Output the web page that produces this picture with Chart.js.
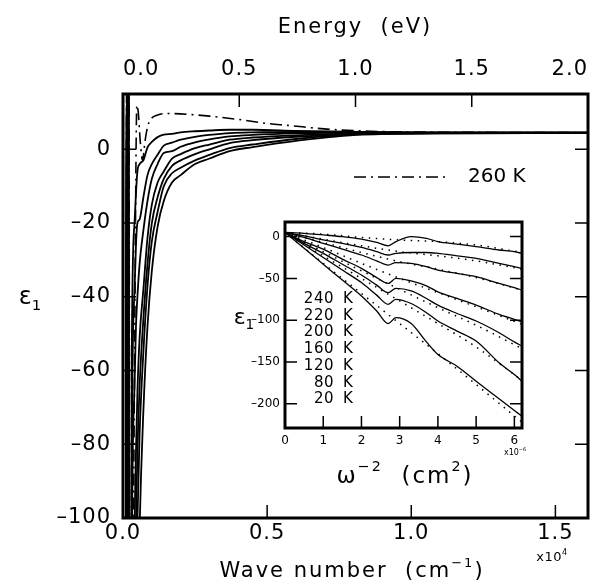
<!DOCTYPE html>
<html>
<head>
<meta charset="utf-8">
<script src="https://cdn.jsdelivr.net/npm/chart.js@4.4.0/dist/chart.umd.min.js"></script>
<style>
  body { margin: 0; background: #fff; }
  #wrap { position: relative; width: 595px; height: 586px; }
  #main { position: absolute; left: 0; top: 0; }
  #inset { position: absolute; left: 230px; top: 212px; }
</style>
</head>
<body>
<div id="wrap">
  <canvas id="main" width="595" height="586"></canvas>
  <canvas id="inset" width="300" height="290"></canvas>
</div>
<script>
// Main panel: eps1 vs wave number (cm^-1)
const waveNum = [90, 130, 170, 190, 220, 300, 400, 450, 500, 577, 707, 850, 1000, 1200, 1414, 1700, 2000, 2500, 3000, 3700, 4500, 6000, 8300, 11000, 16131];
const eps240K = [-300, 40, -300, 30, -400, -60, -20, -12, -6, -4, -3, 0.5, 2, 3.3, 4, 4.2, 4.6, 4.9, 5.1, 5.3, 5.3, 5.0, 4.7, 4.6, 4.5];
const eps220K = [-300, 40, -300, 30, -400, -90, -38, -26, -20, -19, -13, -7, -4, -1.5, 1, 1.8, 2.6, 3.4, 3.9, 4.4, 4.6, 4.7, 4.6, 4.55, 4.5];
const eps200K = [-300, 40, -300, 30, -400, -120, -64, -48, -40, -31, -22, -14, -8, -4, -1, -0.5, 0.7, 1.9, 2.7, 3.5, 3.9, 4.3, 4.5, 4.5, 4.5];
const eps160K = [-300, 40, -300, 30, -400, -180, -102, -82, -66, -51, -38, -24, -15, -9, -6, -2.5, -1.3, 0.3, 1.3, 2.6, 3.2, 3.8, 4.3, 4.45, 4.5];
const eps120K = [-300, 40, -300, 30, -400, -220, -131, -101, -82, -64, -46, -31, -20, -13, -8, -4.5, -3, -1.3, 0, 1.7, 2.5, 3.4, 4.2, 4.4, 4.45];
const eps80K  = [-300, 40, -300, 30, -400, -280, -173, -125, -101, -77, -55, -37, -25, -17, -10, -6.5, -5, -3, -1.5, 0.35, 1.3, 2.8, 4.1, 4.35, 4.4];
const eps20K  = [-300, 40, -300, 30, -400, -330, -215, -172, -141, -103, -71, -48, -33, -21, -14, -9, -7, -4, -2.5, -0.5, 0.6, 2.3, 4.0, 4.3, 4.4];

const wave260 = [90, 130, 170, 200, 260, 330, 400, 480, 530, 600, 680, 760, 850, 950, 1200, 1560, 2000, 3000, 4000, 5000, 5700, 7200, 8600, 10000, 12000, 16131];
const eps260K = [-300, 40, -300, 40, -300, -150, -60, 12, 10, 2, -3, 2, 6, 8, 9.3, 9.7, 9.6, 9.0, 8.1, 7.0, 6.5, 5.4, 4.9, 4.7, 4.6, 4.5];

const waveTicks = [0, 5000, 10000, 15000];
const energyTicks = [0, 0.5, 1.0, 1.5, 2.0];
const epsTicks = [-100, -80, -60, -40, -20, 0];

// Inset: eps1 vs omega^-2 (units of 1e-6 cm^2), solid = data, dotted = fits
const invW2 = [0, 0.5, 1, 1.5, 2, 2.4, 2.7, 2.9, 3.3, 3.7, 4, 4.5, 5, 5.6, 6, 6.2];
const in240K = [5, 4, 2, 0, -3, -7, -11, -6, 0, -2, -6, -9, -12, -16, -18, -20];
const in220K = [5, 1, -4, -8, -13, -18, -22, -20, -19, -19, -20, -23, -26, -32, -36, -38];
const in200K = [5, -1, -8, -15, -22, -29, -34, -31, -32, -36, -40, -44, -48, -56, -61, -64];
const in160K = [5, -6, -15, -27, -38, -49, -56, -50, -53, -59, -66, -74, -82, -93, -99, -102];
const in120K = [5, -8, -20, -33, -46, -58, -67, -62, -65, -74, -82, -92, -101, -115, -126, -131];
const in80K  = [5, -10, -25, -40, -55, -70, -81, -75, -80, -91, -101, -113, -125, -151, -165, -173];
const in20K  = [5, -14, -33, -52, -71, -89, -104, -97, -104, -126, -141, -155, -173, -194, -208, -215];

const fitW2 = [0, 1, 2, 3, 4, 5, 6.2];
const fit240K = [5, 3, -1, -4, -6, -10, -19];
const fit220K = [5, -3, -11, -18, -23, -29, -39];
const fit200K = [5, -7, -19, -30, -39, -49, -64];
const fit160K = [5, -13, -32, -50, -67, -84, -105];
const fit120K = [5, -18, -41, -63, -85, -106, -134];
const fit80K  = [5, -23, -50, -77, -104, -132, -172];
const fit20K  = [5, -32, -68, -104, -140, -177, -222];

const insetXTicks = [0, 1, 2, 3, 4, 5, 6];
const insetYTicks = [0, -50, -100, -150, -200];
const insetTemps = ['240', '220', '200', '160', '120', '80', '20'];

const FAM = "'DejaVu Sans', sans-serif";
Chart.defaults.font.family = FAM;
Chart.defaults.color = '#000';

const pts = (xs, ys) => xs.map((x, i) => ({x: x, y: ys[i]}));
const dash = v => String(v).replace('-', '\u2013');

function richText(ctx, parts, x, y, size, align, spacing) {
  ctx.letterSpacing = (spacing || 0) + 'px';
  let w = 0;
  const widths = parts.map(([t, k]) => {
    ctx.font = (k ? size * 0.62 : size) + 'px ' + FAM;
    const m = ctx.measureText(t).width;
    w += m;
    return m;
  });
  let cx = align === 'center' ? x - w / 2 : align === 'right' ? x - w : x;
  ctx.textAlign = 'left';
  ctx.textBaseline = 'middle';
  parts.forEach(([t, k], i) => {
    ctx.font = (k ? size * 0.62 : size) + 'px ' + FAM;
    const dy = k === 'sup' ? -size * 0.42 : k === 'sub' ? size * 0.32 : 0;
    ctx.fillText(t, cx, y + dy);
    cx += widths[i];
  });
}

// frame + inward tick marks (y ticks mirrored on the right side)
function drawFrame(chart, tickLen, frameWidth) {
  const {ctx, chartArea: a} = chart;
  ctx.save();
  ctx.strokeStyle = '#000';
  ctx.lineWidth = 1.5;
  ctx.beginPath();
  Object.values(chart.scales).forEach(s => {
    s.ticks.forEach(t => {
      if (t.value <= s.min || t.value >= s.max) return;
      const p = s.getPixelForValue(t.value);
      if (s.position === 'bottom') { ctx.moveTo(p, a.bottom); ctx.lineTo(p, a.bottom - tickLen); }
      else if (s.position === 'top') { ctx.moveTo(p, a.top); ctx.lineTo(p, a.top + tickLen); }
      else {
        ctx.moveTo(a.left, p); ctx.lineTo(a.left + tickLen, p);
        ctx.moveTo(a.right, p); ctx.lineTo(a.right - tickLen, p);
      }
    });
  });
  ctx.stroke();
  ctx.lineWidth = frameWidth;
  ctx.strokeRect(a.left, a.top, a.right - a.left, a.bottom - a.top);
  ctx.restore();
}

const noPad = s => { s.paddingLeft = 0; s.paddingRight = 0; s.paddingTop = 0; s.paddingBottom = 0; };

const mainDecor = {
  id: 'mainDecor',
  beforeDraw(chart) { chart.ctx.letterSpacing = '1px'; },
  afterDraw(chart) {
    const ctx = chart.ctx;
    drawFrame(chart, 13, 3);
    ctx.save();
    ctx.fillStyle = '#000';
    ctx.strokeStyle = '#000';
    richText(ctx, [['Energy  (eV)']], 355, 28, 21, 'center', 2);
    richText(ctx, [['Wave number  (cm'], ['\u22121', 'sup'], [')']], 352, 572, 21, 'center', 2);
    richText(ctx, [['x10'], ['4', 'sup']], 552, 558, 13, 'center', 0.5);
    richText(ctx, [['\u03b5'], ['1', 'sub']], 30, 298, 24, 'center', 0);
    ctx.lineWidth = 1.6;
    ctx.setLineDash([12, 5, 2, 5]);
    ctx.beginPath(); ctx.moveTo(354, 177); ctx.lineTo(445, 177); ctx.stroke();
    ctx.setLineDash([]);
    richText(ctx, [['260 K']], 468, 177, 20, 'left', 0);
    ctx.restore();
  }
};

const solid = (xs, ys, w) => ({data: pts(xs, ys), borderColor: '#000', borderWidth: w, pointRadius: 0, cubicInterpolationMode: 'monotone'});

const mainCurves = [eps240K, eps220K, eps200K, eps160K, eps120K, eps80K, eps20K];
const mainSets = mainCurves.map(ys => solid(waveNum, ys, 1.8));
mainSets.push(Object.assign(solid(wave260, eps260K, 1.6), {borderDash: [12, 5, 2, 5]}));

new Chart(document.getElementById('main'), {
  type: 'line',
  data: {datasets: mainSets},
  options: {
    responsive: false, animation: false,
    layout: {padding: {left: 0, right: 7, top: 0, bottom: 0}},
    plugins: {legend: {display: false}, tooltip: {enabled: false}},
    scales: {
      x: {
        type: 'linear', position: 'bottom', min: 0, max: 16131,
        afterFit: s => { s.height = 68; noPad(s); },
        afterBuildTicks: s => { s.ticks = waveTicks.map(v => ({value: v})); },
        grid: {display: false, drawTicks: false}, border: {display: false},
        ticks: {padding: 3, font: {size: 21}, maxRotation: 0, autoSkip: false, callback: v => (v / 1e4).toFixed(1)}
      },
      x2: {
        type: 'linear', position: 'top', min: 0, max: 2,
        afterFit: s => { s.height = 94; noPad(s); },
        afterBuildTicks: s => { s.ticks = energyTicks.map(v => ({value: v})); },
        grid: {display: false, drawTicks: false}, border: {display: false},
        ticks: {padding: 12, font: {size: 21}, maxRotation: 0, autoSkip: false, align: 'inner', callback: v => v.toFixed(1)}
      },
      y: {
        type: 'linear', min: -100, max: 15,
        afterFit: s => { s.width = 123; noPad(s); },
        afterBuildTicks: s => { s.ticks = epsTicks.map(v => ({value: v})); },
        grid: {display: false, drawTicks: false}, border: {display: false},
        ticks: {padding: 12, font: {size: 21}, autoSkip: false, callback: dash}
      }
    }
  },
  plugins: [mainDecor]
});

const insetDecor = {
  id: 'insetDecor',
  beforeDraw(chart) {
    const {ctx, chartArea: a} = chart;
    ctx.letterSpacing = '0px';
    ctx.save();
    ctx.fillStyle = '#fff';
    ctx.fillRect(a.left, a.top, a.right - a.left, a.bottom - a.top);
    ctx.restore();
  },
  afterDraw(chart) {
    const ctx = chart.ctx;
    drawFrame(chart, 12, 3);
    ctx.save();
    ctx.fillStyle = '#000';
    richText(ctx, [['\u03b5'], ['1', 'sub']], 14, 106, 22, 'center', 0);
    richText(ctx, [['\u03c9'], ['\u22122', 'sup'], ['  (cm'], ['2', 'sup'], [')']], 175, 265, 23, 'center', 2);
    richText(ctx, [['x10'], ['\u22126', 'sup']], 285, 241, 8, 'center', 0);
    insetTemps.forEach((t, i) => {
      const y = 87 + i * 16.75;
      richText(ctx, [[t]], 104, y, 15, 'right', 0.5);
      richText(ctx, [['K']], 113, y, 15, 'left', 0);
    });
    ctx.restore();
  }
};

const dotted = (xs, ys) => ({data: pts(xs, ys), borderColor: '#000', borderWidth: 1.5, borderDash: [1.5, 5.5], pointRadius: 0, cubicInterpolationMode: 'monotone'});

const insetCurves = [in240K, in220K, in200K, in160K, in120K, in80K, in20K];
const insetFits = [fit240K, fit220K, fit200K, fit160K, fit120K, fit80K, fit20K];
const insetSets = insetFits.map(ys => dotted(fitW2, ys)).concat(insetCurves.map(ys => solid(invW2, ys, 1.3)));

new Chart(document.getElementById('inset'), {
  type: 'line',
  data: {datasets: insetSets},
  options: {
    responsive: false, animation: false,
    layout: {padding: {left: 0, right: 8, top: 10, bottom: 0}},
    plugins: {legend: {display: false}, tooltip: {enabled: false}},
    scales: {
      x: {
        type: 'linear', min: 0, max: 6.2,
        afterFit: s => { s.height = 74; noPad(s); },
        afterBuildTicks: s => { s.ticks = insetXTicks.map(v => ({value: v})); },
        grid: {display: false, drawTicks: false}, border: {display: false},
        ticks: {padding: 6, font: {size: 12}, maxRotation: 0, autoSkip: false}
      },
      y: {
        type: 'linear', min: -229, max: 17.5,
        afterFit: s => { s.width = 55; noPad(s); },
        afterBuildTicks: s => { s.ticks = insetYTicks.map(v => ({value: v})); },
        grid: {display: false, drawTicks: false}, border: {display: false},
        ticks: {padding: 5, font: {size: 12}, autoSkip: false, callback: dash}
      }
    }
  },
  plugins: [insetDecor]
});
</script>
</body>
</html>
